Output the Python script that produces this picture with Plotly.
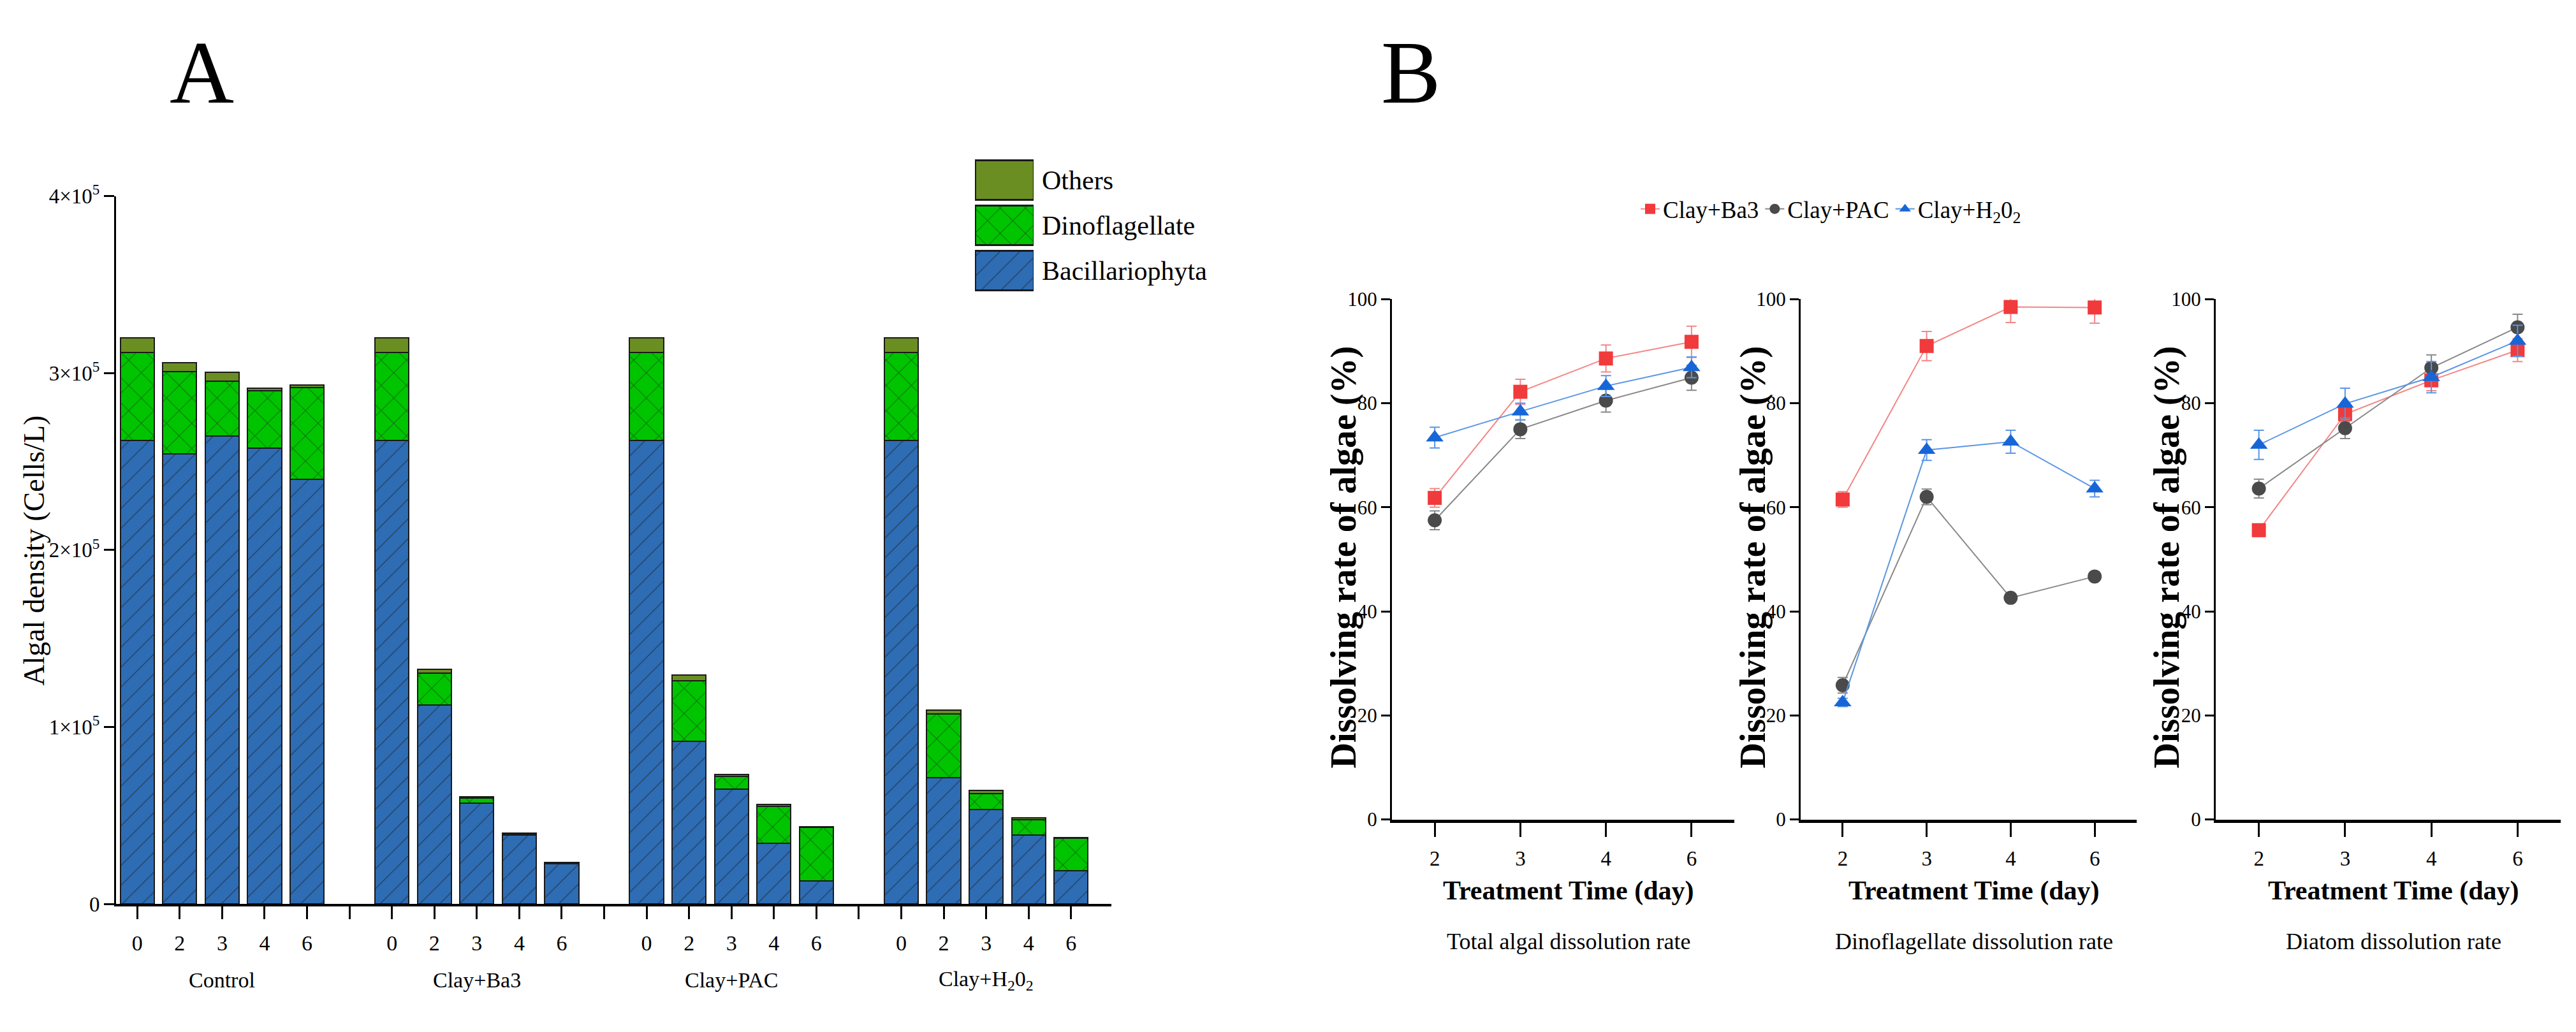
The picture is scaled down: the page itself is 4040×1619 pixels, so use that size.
import plotly.graph_objects as go

FONT = "Liberation Serif, Times New Roman, serif"
W, H = 4040, 1619

# ---------- panel A data (cells/L) ----------
groups = ["Control", "Clay+Ba3", "Clay+PAC", "Clay+H<sub>2</sub>0<sub>2</sub>"]
days_a = ["0", "2", "3", "4", "6"]
series_a = ["Bacillariophyta", "Dinoflagellate", "Others"]

bacillariophyta = [262000, 254300, 264600, 257500, 240000,
                   262000, 112400, 56800, 39100, 22700,
                   262000, 92000, 64800, 34400, 13100,
                   262000, 71400, 53200, 38900, 18800]
dinoflagellate = [49600, 46400, 30800, 32500, 51800,
                  49600, 18000, 2900, 400, 300,
                  49600, 34200, 7200, 20800, 30300,
                  49600, 36000, 9200, 8700, 18500]
others = [8400, 5000, 5000, 1400, 1400,
          8400, 2100, 1000, 500, 500,
          8400, 3200, 1000, 1000, 200,
          8400, 2000, 1900, 900, 300]

# ---------- panel B data (%) ----------
days_b = ["2", "3", "4", "6"]
treat_b = ["Clay+Ba3", "Clay+PAC", "Clay+H<sub>2</sub>0<sub>2</sub>"]
panel_titles = ["Total algal dissolution rate", "Dinoflagellate dissolution rate",
                "Diatom dissolution rate"]

total_ba3 = [61.8, 82.2, 88.6, 91.8]
total_ba3_err = [1.8, 2.4, 2.6, 3.0]
total_pac = [57.5, 75.0, 80.5, 84.9]
total_pac_err = [1.8, 1.8, 2.2, 2.4]
total_h2o2 = [73.4, 78.4, 83.3, 86.9]
total_h2o2_err = [2.0, 1.6, 2.0, 2.0]

dino_ba3 = [61.5, 91.0, 98.5, 98.4]
dino_ba3_err = [1.5, 2.8, 3.0, 3.0]
dino_pac = [25.8, 62.0, 42.6, 46.7]
dino_pac_err = [1.5, 1.5, 0.8, 0.8]
dino_h2o2 = [22.5, 71.0, 72.6, 63.6]
dino_h2o2_err = [0.8, 2.0, 2.2, 1.6]

diatom_ba3 = [55.6, 77.9, 84.4, 90.2]
diatom_ba3_err = [1.2, 1.5, 2.0, 2.2]
diatom_pac = [63.6, 75.2, 86.8, 94.6]
diatom_pac_err = [1.8, 2.0, 2.5, 2.5]
diatom_h2o2 = [72.0, 79.9, 85.0, 92.0]
diatom_h2o2_err = [2.8, 3.0, 3.0, 3.0]

# ---------- styles ----------
bar_style = {
    "Bacillariophyta": dict(color="#2E6DB4", shape="/", size=22),
    "Dinoflagellate": dict(color="#00C400", shape="x", size=28),
    "Others": dict(color="#6B8E23", shape="", size=20),
}
line_style = [
    dict(marker="#F03A3C", line="#F48686", symbol="square", size=22),
    dict(marker="#4A4A4A", line="#888888", symbol="circle", size=22),
    dict(marker="#1766D8", line="#5A95E6", symbol="triangle-up", size=24),
]

def px_x(v):
    return v / W

def px_y(v):
    return 1 - v / H

fig = go.Figure()

# ---------- panel A: stacked bars ----------
slot = len(days_a) + 1
positions = [g * slot + i for g in range(len(groups)) for i in range(len(days_a))]
values_a = {"Bacillariophyta": bacillariophyta, "Dinoflagellate": dinoflagellate,
            "Others": others}

for s in series_a:
    st = bar_style[s]
    fig.add_trace(go.Bar(
        x=positions, y=values_a[s], name=s, width=0.8, showlegend=False,
        xaxis="x", yaxis="y",
        marker=dict(color=st["color"], line=dict(color="#1a1a1a", width=2),
                    pattern=dict(shape=st["shape"], fgcolor="#1a1a1a", bgcolor=st["color"],
                                 size=st["size"], solidity=0.07)),
    ))

# legend swatches for panel A (large boxes like the original)
for s in series_a:
    st = bar_style[s]
    fig.add_trace(go.Bar(
        x=[1], y=[s], orientation="h", width=0.88, showlegend=False,
        xaxis="x5", yaxis="y5", hoverinfo="skip",
        marker=dict(color=st["color"], line=dict(color="#1a1a1a", width=3),
                    pattern=dict(shape=st["shape"], fgcolor="#1a1a1a", bgcolor=st["color"],
                                 size=st["size"], solidity=0.07)),
    ))

tickvals_a = list(range(len(groups) * slot - 1))
ticktext_a = [days_a[v % slot] if v % slot < len(days_a) else " " for v in tickvals_a]

# ---------- panel B: line charts ----------
panels_b = [
    [(total_ba3, total_ba3_err), (total_pac, total_pac_err), (total_h2o2, total_h2o2_err)],
    [(dino_ba3, dino_ba3_err), (dino_pac, dino_pac_err), (dino_h2o2, dino_h2o2_err)],
    [(diatom_ba3, diatom_ba3_err), (diatom_pac, diatom_pac_err), (diatom_h2o2, diatom_h2o2_err)],
]

for p, panel in enumerate(panels_b):
    ax = str(p + 2)
    for t, (vals, errs) in enumerate(panel):
        st = line_style[t]
        fig.add_trace(go.Scatter(
            x=days_b, y=vals, name=treat_b[t], mode="lines+markers",
            xaxis="x" + ax, yaxis="y" + ax, legend="legend2",
            showlegend=(p == 0), cliponaxis=False,
            line=dict(color=st["line"], width=2),
            marker=dict(color=st["marker"], symbol=st["symbol"], size=st["size"]),
            error_y=dict(type="data", array=errs, color=st["line"], thickness=2, width=8),
        ))

# ---------- axes ----------
axis_common = dict(showgrid=False, zeroline=False, showline=True, linecolor="black",
                   ticks="outside", tickcolor="black", tickwidth=3)

layout_axes = dict(
    xaxis=dict(axis_common, domain=[px_x(174), px_x(1735)], range=[-0.5, 22.95],
               tickvals=tickvals_a, ticktext=ticktext_a, ticklen=20, linewidth=4,
               ticklabelstandoff=8, tickfont=dict(size=34), anchor="y"),
    yaxis=dict(axis_common, domain=[px_y(1424), px_y(284)], range=[0, 400000],
               tickvals=[0, 100000, 200000, 300000, 400000],
               ticktext=["0", "1×10<sup>5</sup>", "2×10<sup>5</sup>",
                         "3×10<sup>5</sup>", "4×10<sup>5</sup>"],
               ticklen=16, linewidth=3, tickfont=dict(size=33), anchor="x"),
    xaxis5=dict(domain=[px_x(1521), px_x(1613)], range=[0, 1], visible=False,
                anchor="y5", fixedrange=True),
    yaxis5=dict(domain=[px_y(440), px_y(222)], range=[-0.5, 2.5], side="right",
                showline=False, showgrid=False, zeroline=False, ticks="",
                ticklabelstandoff=12, tickfont=dict(size=42), anchor="x5"),
)

b_domains = [(2175, 2712), (2816, 3343), (3467, 4008)]
for p, (x0, x1) in enumerate(b_domains):
    ax = str(p + 2)
    layout_axes["xaxis" + ax] = dict(axis_common, domain=[px_x(x0), px_x(x1)],
                                     range=[-0.5, 3.5], type="category", ticklen=22,
                                     linewidth=5, tickfont=dict(size=33),
                                     ticklabelstandoff=6, anchor="y" + ax)
    layout_axes["yaxis" + ax] = dict(axis_common, domain=[px_y(1288), px_y(450)],
                                     range=[0, 100], tickvals=[0, 20, 40, 60, 80, 100],
                                     ticklen=14, linewidth=3, tickfont=dict(size=31),
                                     anchor="x" + ax)

# ---------- annotations ----------
def note(text, x, y, size, xref="paper", angle=0, yanchor="middle"):
    return dict(text=text, x=x, y=y, xref=xref, yref="paper", showarrow=False,
                xanchor="center", yanchor=yanchor, textangle=angle,
                font=dict(size=size))

ann = [
    note("A", px_x(308), 0.998, 140, yanchor="top"),
    note("B", px_x(2204), 0.998, 140, yanchor="top"),
    note("Algal density (Cells/L)", px_x(46), px_y(855), 46, angle=-90),
]
for g, name in enumerate(groups):
    ann.append(note(name, g * slot + (len(days_a) - 1) / 2, px_y(1547), 34, xref="x"))

title_x = [2100, 2742, 3391]
for p, (x0, x1) in enumerate(b_domains):
    ann.append(note("<b>Dissolving rate of algae (%)</b>", px_x(title_x[p]), px_y(866),
                    56, angle=-90))
    mid = px_x((x0 + x1) / 2 + 8)
    ann.append(note("<b>Treatment Time (day)</b>", mid, px_y(1403), 42))
    ann.append(note(panel_titles[p], mid, px_y(1484), 36))

fig.update_layout(
    width=W, height=H, margin=dict(l=0, r=0, t=0, b=0),
    plot_bgcolor="white", paper_bgcolor="white",
    barmode="stack", showlegend=True,
    font=dict(family=FONT, color="black"),
    legend2=dict(orientation="h", x=px_x(2560), xanchor="left", y=px_y(305),
                 yanchor="middle", font=dict(size=37), itemsizing="trace",
                 bgcolor="rgba(0,0,0,0)"),
    annotations=ann,
    **layout_axes,
)

fig.write_html("out.html")
